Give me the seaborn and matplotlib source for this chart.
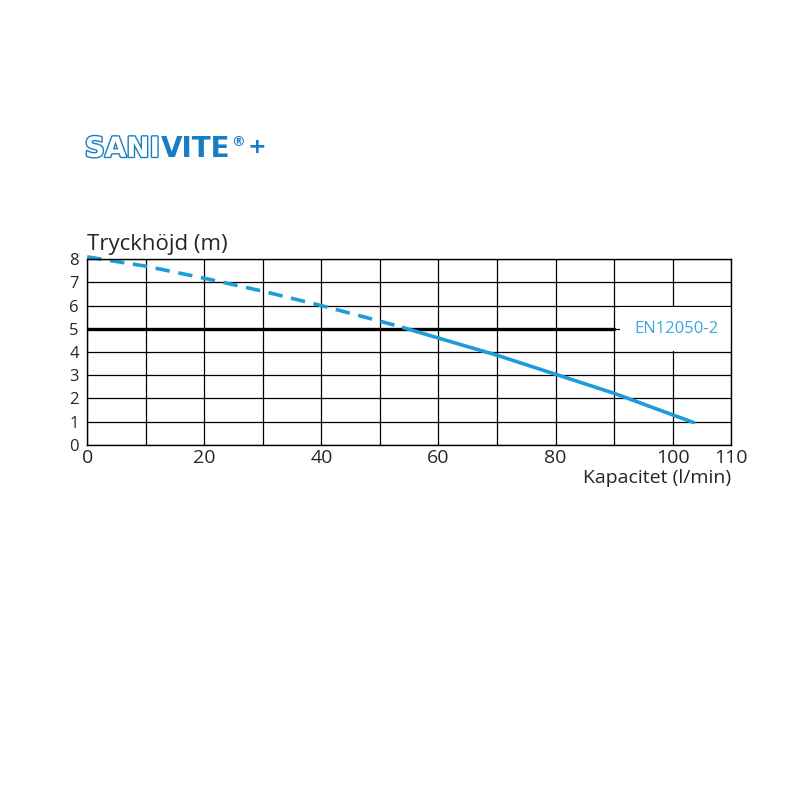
import matplotlib
matplotlib.use('Agg')
import matplotlib.pyplot as plt
import matplotlib.patheffects as pe
import pandas as pd
import seaborn as sns

# pump curve (x = l/min, y = m)
dashed_x = [0, 10, 20, 30, 40, 50, 54]
dashed_y = [8.1, 7.7, 7.18, 6.62, 6.0, 5.33, 5.05]
solid_x = [54, 60, 70, 80, 90, 100, 103.6]
solid_y = [5.05, 4.6, 3.86, 3.04, 2.22, 1.29, 0.96]
norm_x = [0, 90]
norm_y = [5, 5]
norm_label = 'EN12050-2'

x_ticks = [0, 20, 40, 60, 80, 100, 110]
y_ticks = [0, 1, 2, 3, 4, 5, 6, 7, 8]

BLUE = '#1c9dd8'
LOGO = '#1a7dc3'

sns.set_style('white')
plt.rcParams['font.family'] = ['Open Sans', 'DejaVu Sans']

fig = plt.figure(figsize=(8, 8), dpi=100)
ax = fig.add_axes([0.109, 0.444, 0.805, 0.232])

dashed = pd.DataFrame({'x': dashed_x, 'y': dashed_y})
solid = pd.DataFrame({'x': solid_x, 'y': solid_y})
norm = pd.DataFrame({'x': norm_x, 'y': norm_y})

sns.lineplot(data=dashed, x='x', y='y', ax=ax, color=BLUE, lw=2.6,
             linestyle=(0, (4, 2.4)), clip_on=False, zorder=4)
sns.lineplot(data=solid, x='x', y='y', ax=ax, color=BLUE, lw=2.6, zorder=4)
sns.lineplot(data=norm, x='x', y='y', ax=ax, color='black', lw=2.4, zorder=3)

ax.set_xlim(0, 110)
ax.set_ylim(0, 8)
ax.set_xticks(range(0, 111, 10), minor=True)
ax.set_xticks(x_ticks)
ax.set_yticks(y_ticks)
ax.grid(True, which='both', color='black', lw=0.9)
ax.set_axisbelow(True)
ax.tick_params(length=0, pad=2)
ax.tick_params(axis='x', labelsize=14, pad=3)
ax.tick_params(axis='y', labelsize=12, pad=6)
for s in ax.spines.values():
    s.set_color('black')
    s.set_linewidth(1.0)
    s.set_zorder(5)

ax.set_xlabel('')
ax.set_ylabel('')
ax.text(0, 1.025, 'Tryckhöjd (m)', transform=ax.transAxes, fontsize=16,
        ha='left', va='bottom')
ax.text(1.0, -0.13, 'Kapacitet (l/min)', transform=ax.transAxes, fontsize=14,
        ha='right', va='top')

ax.text(100.6, 5, norm_label, color='#3aa8dc', fontsize=12, ha='center',
        va='center', zorder=2,
        bbox=dict(boxstyle='square,pad=0.85', fc='white', ec='none'))

# logo
logo_font = dict(fontsize=20, fontweight='bold', family='DejaVu Sans')
t1 = fig.text(0.106, 0.804, 'SANI', color='white', ha='left', va='baseline',
              path_effects=[pe.withStroke(linewidth=2.0, foreground=LOGO)],
              **logo_font)
t2 = plt.annotate('VITE', xy=(1, 0), xycoords=t1, xytext=(1, 0),
                  textcoords='offset points', color=LOGO, va='bottom',
                  ha='left', **logo_font)
plt.annotate('®', xy=(1, 1), xycoords=t2, xytext=(0.5, 0),
             textcoords='offset points', fontsize=10, fontweight='bold',
             family='DejaVu Sans', color=LOGO, va='top', ha='left')
plt.annotate('+', xy=(1, 0.5), xycoords=t2, xytext=(12, 1.5),
             textcoords='offset points', color=LOGO, va='center', ha='left',
             fontsize=16, fontweight='bold', family='DejaVu Sans')

plt.savefig('out.png', dpi=100)
